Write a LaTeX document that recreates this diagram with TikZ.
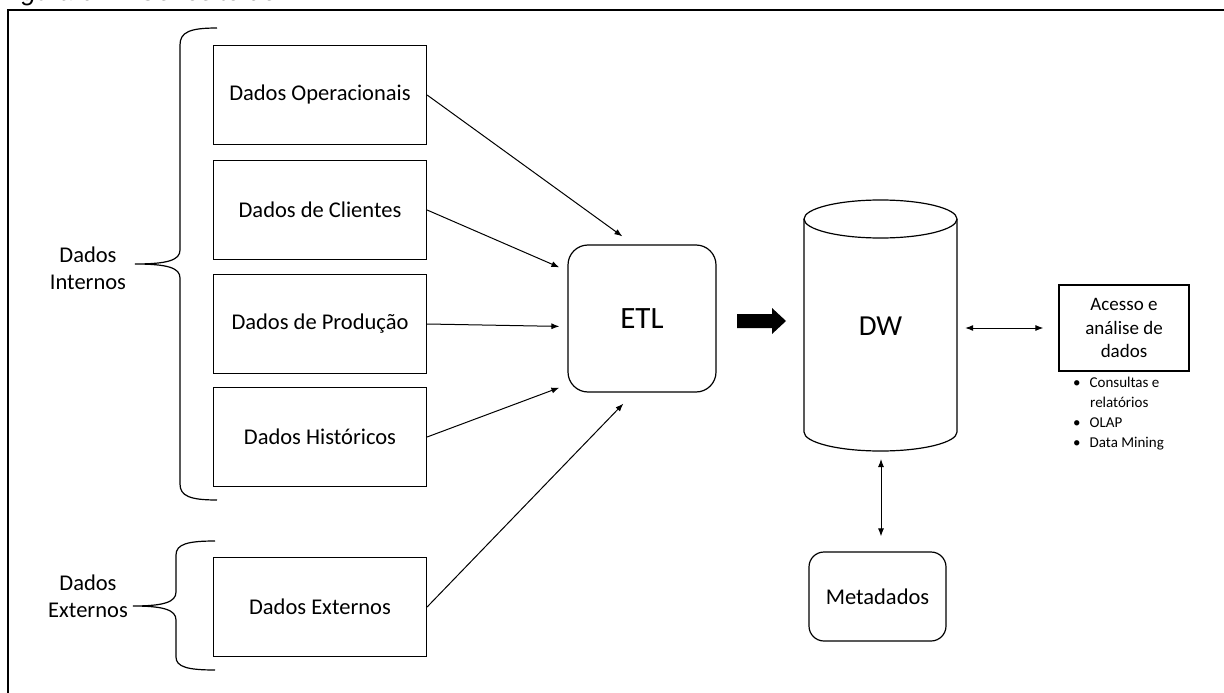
\documentclass[tikz,border=0pt]{standalone}
\usepackage{fontspec}
\setmainfont{Carlito}
\newfontfamily\capfont{Liberation Sans}
\usetikzlibrary{arrows.meta}
\tikzset{
  srcbox/.style={draw, line width=1.2pt, minimum width=213pt, minimum height=99pt,
    inner sep=0pt, font=\fontsize{22.5}{27}\selectfont},
  roundbox/.style={draw, line width=1.2pt, rounded corners=20pt, inner sep=0pt},
  flow/.style={line width=1pt, -{Latex[length=8pt,width=6pt]}},
  flowtwo/.style={line width=1pt, {Latex[length=8pt,width=6pt]}-{Latex[length=8pt,width=6pt]}},
  brace/.style={line width=1.2pt},
  grouplabel/.style={align=center, font=\fontsize{22.5}{27}\selectfont},
}
\begin{document}
\begin{tikzpicture}[x=1pt,y=-1pt]
\useasboundingbox (0,0) rectangle (1224,693);
\clip (0,0) rectangle (1224,693);
\fill[white] (0,0) rectangle (1224,693);

% caption, partly cut at the top edge
\node[anchor=base west, inner sep=0pt, font=\capfont\itshape\fontsize{26}{30}\selectfont]
  (cap) at (0,1) {Figura 01 – Conceito de DW};

% outer frame
\draw[line width=1.6pt] (8,700) -- (8,10) -- (1230,10);

% source boxes
\node[srcbox] (op)  at (320,95)  {Dados Operacionais};
\node[srcbox] (cli) at (320,210) {Dados de Clientes};
\node[srcbox] (pro) at (320,324) {Dados de Produção};
\node[srcbox] (his) at (320,437) {Dados Históricos};
\node[srcbox] (ext) at (320,607) {Dados Externos};

% group braces and labels
\draw[brace] (217,28) .. controls (190,28) and (180,32) .. (180,45)
  -- (180,250) .. controls (180,260) and (168,264) .. (135,264)
  .. controls (168,264) and (180,268) .. (180,278)
  -- (180,484) .. controls (180,496) and (190,500) .. (217,500);
\draw[brace] (215,541) .. controls (188,541) and (176,544) .. (176,555)
  -- (176,592) .. controls (176,602) and (164,606) .. (133,606)
  .. controls (164,606) and (176,610) .. (176,620)
  -- (176,657) .. controls (176,667) and (188,670) .. (215,670);
\node[grouplabel] (intl) at (88,268) {Dados\\Internos};
\node[grouplabel] (extl) at (88,596) {Dados\\Externos};

% ETL
\node[roundbox, minimum width=148pt, minimum height=147pt,
  font=\fontsize{31}{36}\selectfont] (etl) at (642,318.5) {ETL};

% arrows into ETL
\coordinate (e1) at ([shift={(55,-8)}]etl.north west);
\coordinate (e2) at ([shift={(-8,23)}]etl.north west);
\coordinate (e3) at ([shift={(-8,82)}]etl.north west);
\coordinate (e4) at ([shift={(-8,-5)}]etl.south west);
\coordinate (e5) at ([shift={(56,11)}]etl.south west);
\draw[flow] (op.east)  -- (e1);
\draw[flow] (cli.east) -- (e2);
\draw[flow] (pro.east) -- (e3);
\draw[flow] (his.east) -- (e4);
\draw[flow] (ext.east) -- (e5);

% block arrow ETL -> DW
\fill (737,314) -- (772,314) -- (772,308) -- (786,321) -- (772,334)
  -- (772,328) -- (737,328) -- cycle;

% DW cylinder
\node[minimum width=153pt, minimum height=250pt, inner sep=0pt,
  font=\fontsize{29}{34}\selectfont] (dw) at (880.5,326) {DW};
\draw[line width=1.2pt] (804,219) -- (804,432)
  arc[start angle=180, end angle=0, x radius=76.5, y radius=19] -- (957,219);
\draw[line width=1.2pt] (880.5,219) ellipse[x radius=76.5, y radius=19];

% access box
\node[draw, line width=1.2pt, minimum width=130pt, minimum height=86pt, inner sep=0pt,
  align=center, font=\fontsize{19}{23.5}\selectfont] (acc) at (1124,328)
  {Acesso e\\análise de\\dados};
\node[anchor=north west, inner sep=0pt, align=left,
  font=\fontsize{15}{20}\selectfont] (lst) at (1073,377)
  {\textbullet\hspace{9pt}Consultas e\\\hspace{17pt}relatórios\\\textbullet\hspace{9pt}OLAP\\\textbullet\hspace{9pt}Data Mining};
\coordinate (a1) at ([xshift=8pt]dw.east);
\coordinate (a2) at ([xshift=-15pt]acc.west);
\draw[flowtwo] (a1 |- acc.west) -- (a2 |- acc.west);

% metadata
\node[roundbox, rounded corners=15pt, minimum width=137pt, minimum height=89pt,
  font=\fontsize{22.5}{27}\selectfont] (meta) at (877.5,596.5) {Metadados};
\coordinate (m1) at (881,459);
\coordinate (m2) at ([yshift=15pt]meta.north -| m1);
\draw[flowtwo] (m1) -- (m2);
\end{tikzpicture}
\end{document}
